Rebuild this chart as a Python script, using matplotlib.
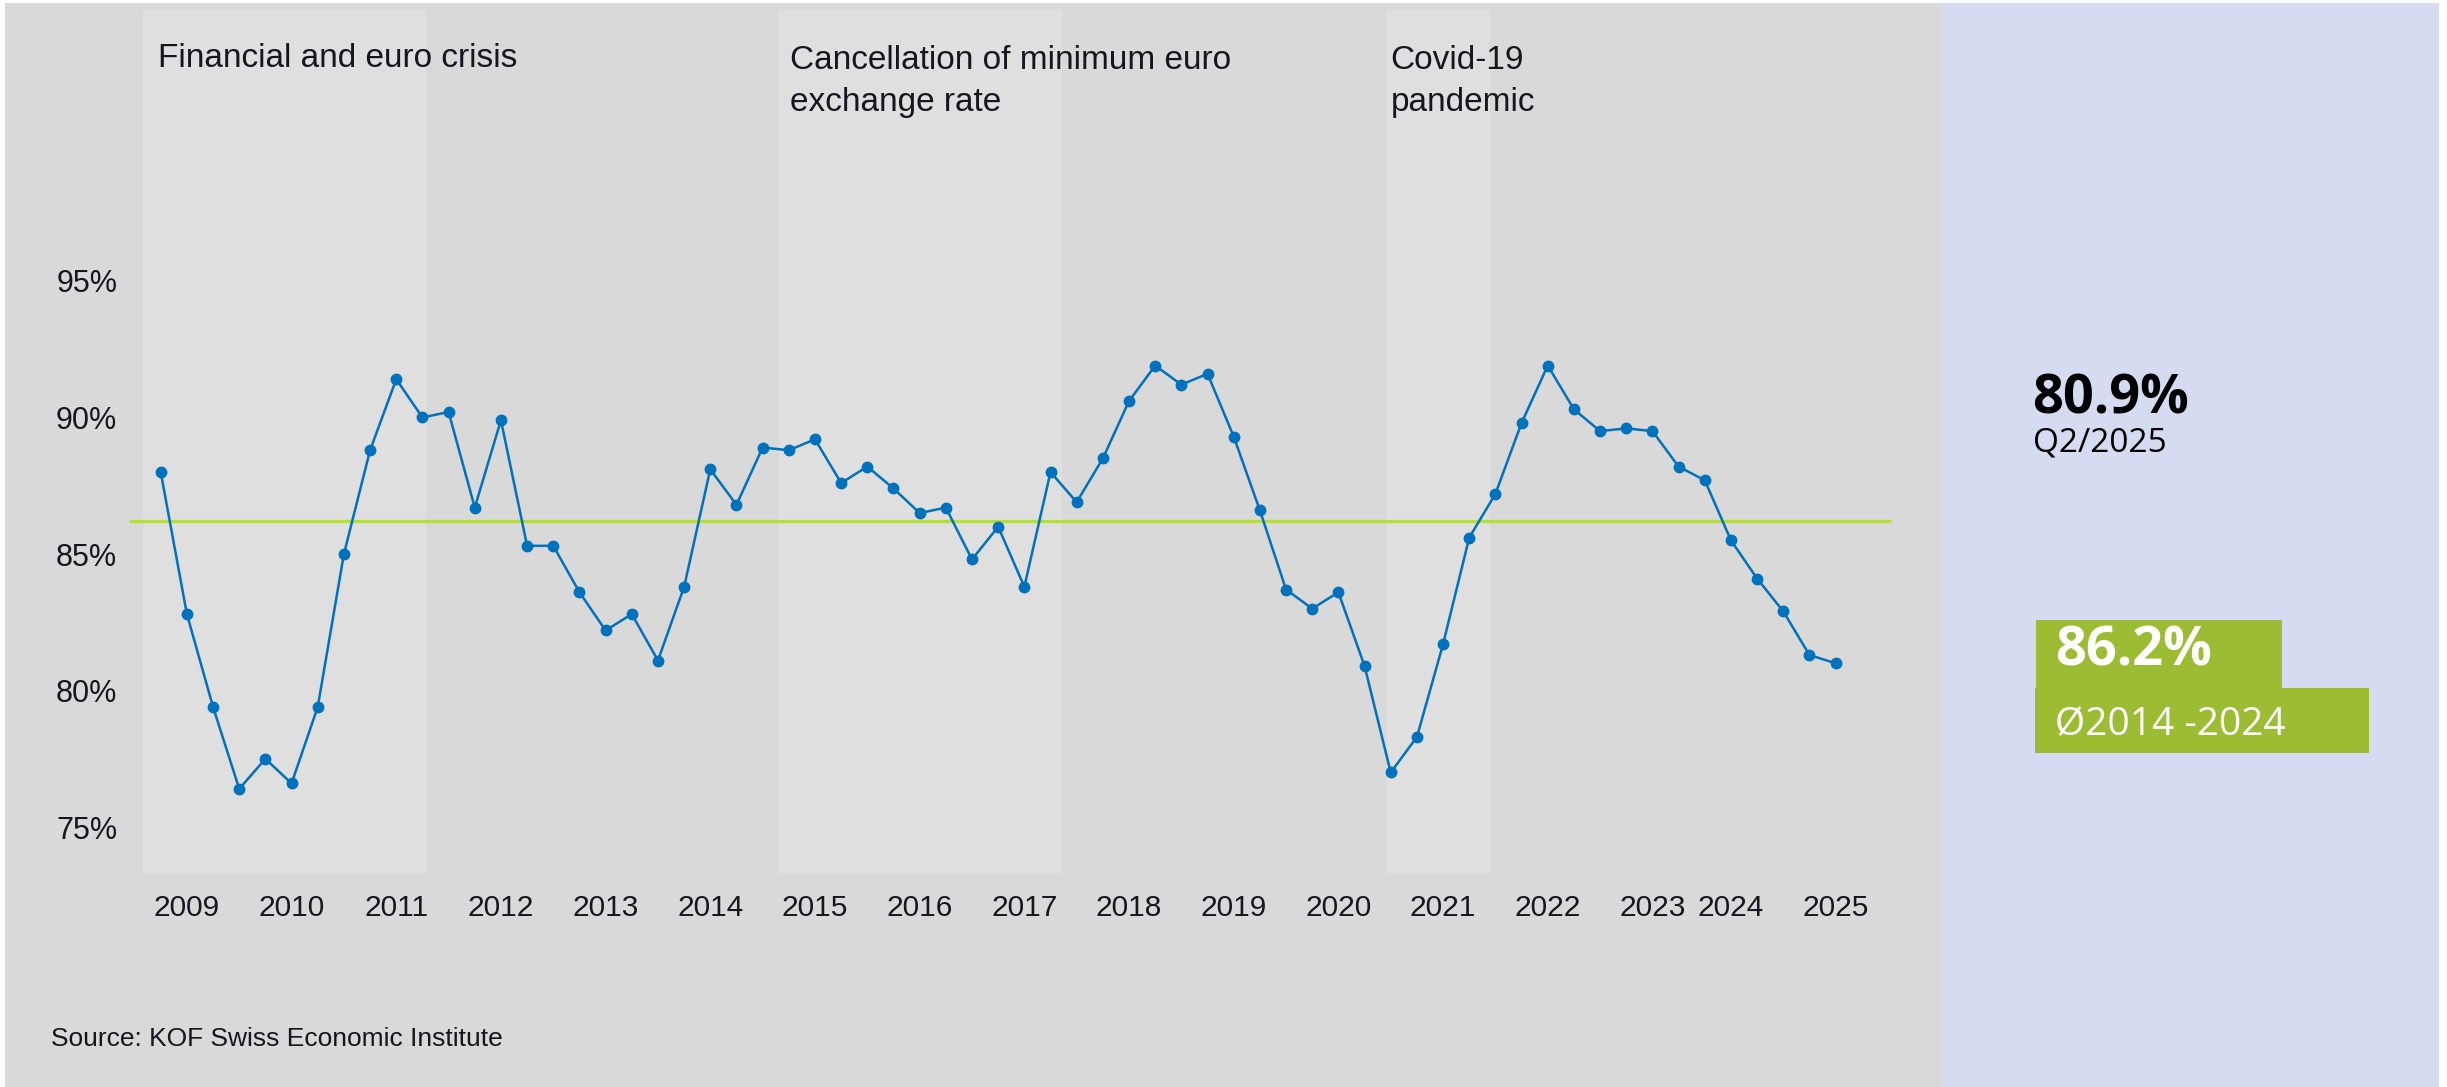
import matplotlib.pyplot as plt
from matplotlib.patches import Rectangle

# === DATEN ===
# Auslastung der technischen Kapazitaeten (Industrie), Q2 2009 bis Q2 2025
quartale = [f"{j}Q{q}" for j in range(2009, 2026) for q in range(1, 5)][1:-2]
auslastung = [
    88.0, 82.8, 79.4, 76.4, 77.5, 76.6, 79.4, 85.0, 88.8, 91.4,
    90.0, 90.2, 86.7, 89.9, 85.3, 85.3, 83.6, 82.2, 82.8, 81.1,
    83.8, 88.1, 86.8, 88.9, 88.8, 89.2, 87.6, 88.2, 87.4, 86.5,
    86.7, 84.8, 86.0, 83.8, 88.0, 86.9, 88.5, 90.6, 91.9, 91.2,
    91.6, 89.3, 86.6, 83.7, 83.0, 83.6, 80.9, 77.0, 78.3, 81.7,
    85.6, 87.2, 89.8, 91.9, 90.3, 89.5, 89.6, 89.5, 88.2, 87.7,
    85.5, 84.1, 82.9, 81.3, 81.0,
]
mittelwert = 86.2

# Achsenbeschriftung: Jahreszahl steht unter dem jeweiligen Quartal
jahr_labels = [str(j) for j in range(2009, 2026)]
jahr_quartal = [f"{j}Q3" for j in range(2009, 2024)] + ["2024Q2", "2025Q2"]
y_ticks = [75, 80, 85, 90, 95]

# Krisenphasen (in Quartalsindex-Einheiten)
phasen_start = [-0.67, 23.63, 46.86]
phasen_ende = [10.14, 34.43, 50.79]
phasen_text = ["Financial and euro crisis",
               "Cancellation of minimum euro\nexchange rate",
               "Covid-19\npandemic"]
phasen_text_x = [-0.1, 24.05, 47.0]

letzter_wert = "80.9%"
letztes_quartal = "Q2/2025"
mittel_text = "86.2%"
mittel_periode = "Ø2014 -2024"

# === FARBEN ===
GRAU = '#d9d9d9'
GRAU_HELL = '#dfdfdf'
BLAU_PANEL = '#d5dbf0'
LINIE = '#0071bc'
MITTEL_LINIE = '#b4de38'
GRUEN_BOX = '#9cbd33'
TEXT = '#16161e'

plt.rcParams['font.family'] = ['Liberation Sans', 'DejaVu Sans']

W, H = 2447, 1087
fig = plt.figure(figsize=(W / 100, H / 100), dpi=100)
fig.patch.set_facecolor('white')


def fx(px):
    return px / W


def fy(py):
    return 1 - py / H


# Hintergrundflaechen
fig.add_artist(Rectangle((fx(5), 0), fx(1941) - fx(5), fy(3), transform=fig.transFigure,
                         facecolor=GRAU, lw=0, zorder=-2))
fig.add_artist(Rectangle((fx(1941), 0), fx(2439) - fx(1941), fy(3), transform=fig.transFigure,
                         facecolor=BLAU_PANEL, lw=0, zorder=-2))

# --- Hauptgrafik ---
ax = fig.add_axes([fx(82.2), fy(874), fx(1940.3) - fx(82.2), (874 - 10) / H])
ax.set_facecolor('none')
ax.set_xlim(-3, 68)
ax.set_ylim(73.283, 104.92)

x = list(range(len(auslastung)))

for start, ende in zip(phasen_start, phasen_ende):
    ax.axvspan(start, ende, color=GRAU_HELL, lw=0, zorder=0)

ax.hlines(mittelwert, -1.21, 66.1, color=MITTEL_LINIE, lw=2.3, zorder=2)
ax.plot(x, auslastung, color=LINIE, lw=1.8, marker='o', markersize=7.5, zorder=3)

# Baseline der letzten Zeile; Zeilenabstand ca. 44 px = 1.61 Einheiten
for tx, txt in zip(phasen_text_x, phasen_text):
    n = txt.count('\n')
    ax.text(tx, 102.83 - n * 1.61, txt, fontsize=24, color=TEXT, va='baseline', ha='left',
            linespacing=1.48)

ax.set_xticks([quartale.index(q) for q in jahr_quartal])
ax.set_xticklabels(jahr_labels)
ax.set_yticks(y_ticks)
ax.set_yticklabels([f"{v}%" for v in y_ticks])
ax.tick_params(axis='x', length=0, pad=14.5, labelsize=21.5, labelcolor=TEXT)
ax.tick_params(axis='y', length=0, pad=-25.2, labelsize=22, labelcolor=TEXT)
for s in ax.spines.values():
    s.set_visible(False)

fig.text(fx(51), fy(1046), "Source: KOF Swiss Economic Institute", fontsize=19,
         color=TEXT, va='baseline', ha='left')

# --- Rechtes Panel ---
fig.text(fx(2032), fy(413), letzter_wert, fontsize=39, fontweight='bold',
         family=['Open Sans', 'DejaVu Sans'], color='black', va='baseline')
fig.text(fx(2033), fy(452), letztes_quartal, fontsize=24,
         family=['Open Sans', 'DejaVu Sans'], color='black', va='baseline')

fig.add_artist(Rectangle((fx(2036), fy(688)), fx(2282) - fx(2036), (688 - 620) / H,
                         transform=fig.transFigure, facecolor=GRUEN_BOX, lw=0))
fig.add_artist(Rectangle((fx(2035), fy(753)), fx(2369) - fx(2035), (753 - 688) / H,
                         transform=fig.transFigure, facecolor=GRUEN_BOX, lw=0))
fig.text(fx(2055), fy(666), mittel_text, fontsize=39, fontweight='bold',
         family=['Open Sans', 'DejaVu Sans'], color='white', va='baseline')
fig.text(fx(2055), fy(735), mittel_periode, fontsize=28,
         family=['Open Sans', 'DejaVu Sans'], color='white', va='baseline')

plt.savefig('out.png', dpi=100)
